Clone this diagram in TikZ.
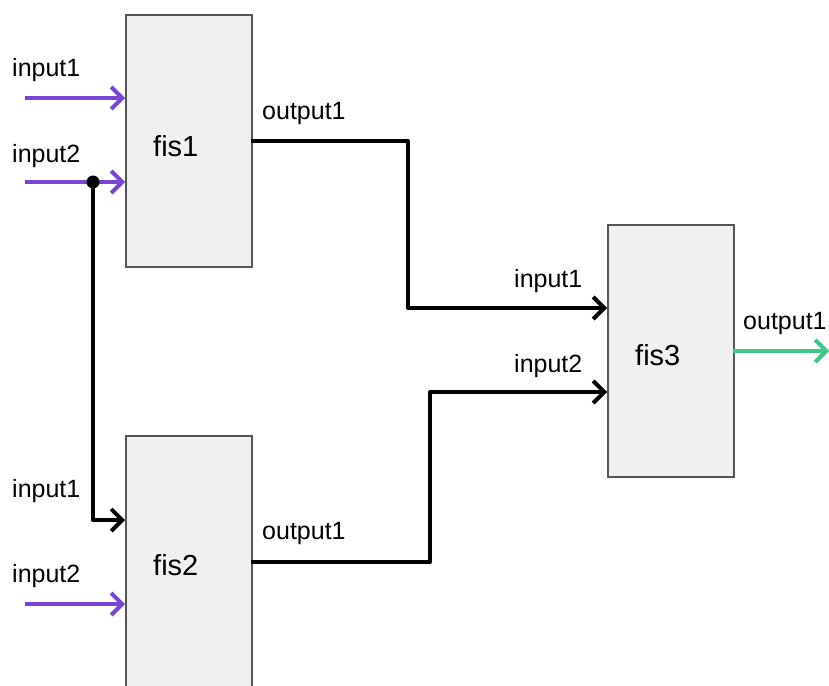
\documentclass[tikz,border=0pt]{standalone}
\usepackage{fontspec}
\setmainfont{Liberation Sans}
\usetikzlibrary{arrows.meta}
\definecolor{inpurple}{RGB}{122,69,214}
\definecolor{outgreen}{RGB}{60,200,135}
\definecolor{boxfill}{RGB}{240,240,240}
\definecolor{boxline}{RGB}{85,85,85}
\begin{document}
\begin{tikzpicture}[x=1pt,y=-1pt,
  fisbox/.style={draw=boxline,fill=boxfill,line width=1.8pt,rectangle,minimum width=126pt,minimum height=252pt,inner sep=0pt,anchor=north west},
  fislbl/.style={anchor=base west,inner sep=0pt,font=\fontsize{29}{33}\selectfont},
  portlbl/.style={anchor=base west,inner sep=0pt,font=\fontsize{25}{29}\selectfont},
  wire/.style={line width=4pt,line join=round,-{Straight Barb[length=11pt,width=22pt,line width=4pt]}},
]
\useasboundingbox (0,0) rectangle (829,685);
\begin{scope}
\clip (0,0) rectangle (829,685);
\node[fisbox] (fis1) at (125,14) {};
\node[fisbox] (fis2) at (125,435) {};
\node[fisbox] (fis3) at (607,224) {};
\end{scope}

\node[fislbl] (fis1lbl) at (153,156) {fis1};
\node[fislbl] (fis2lbl) at (153,575) {fis2};
\node[fislbl] (fis3lbl) at (635,365) {fis3};

\node[portlbl] (l11) at (12,77) {input1};
\node[portlbl] (l12) at (12,162) {input2};
\node[portlbl] (l1o) at (262,119) {output1};
\node[portlbl] (l21) at (12,497) {input1};
\node[portlbl] (l22) at (12,582) {input2};
\node[portlbl] (l2o) at (262,539) {output1};
\node[portlbl] (l31) at (514,287) {input1};
\node[portlbl] (l32) at (514,372) {input2};
\node[portlbl] (l3o) at (743,329) {output1};

% port coordinates
\coordinate (f1in1) at (125,98);
\coordinate (f1in2) at (125,182);
\coordinate (f1out) at (251,141);
\coordinate (f2in1) at (125,520);
\coordinate (f2in2) at (125,604);
\coordinate (f2out) at (251,562);
\coordinate (f3in1) at (607,308);
\coordinate (f3in2) at (607,392);
\coordinate (f3out) at (733,351);
% free ends
\coordinate (src1) at (25,98);
\coordinate (src2) at (25,182);
\coordinate (src3) at (25,604);
\coordinate (sink) at (829,351);
\coordinate (split) at (93,182);

\draw[wire,inpurple] (src1) -- (f1in1);
\draw[wire,inpurple] (src2) -- (f1in2);
\draw[wire,inpurple] (src3) -- (f2in2);
\draw[wire,outgreen] (f3out) -- (sink);

\draw[wire] (f1out) -- (408,141) -- (408,308) -- (f3in1);
\draw[wire] (f2out) -- (430,562) -- (430,392) -- (f3in2);
\draw[wire] (split) -- (93,520) -- (f2in1);
\fill (split) circle (6.5pt);
\end{tikzpicture}
\end{document}
